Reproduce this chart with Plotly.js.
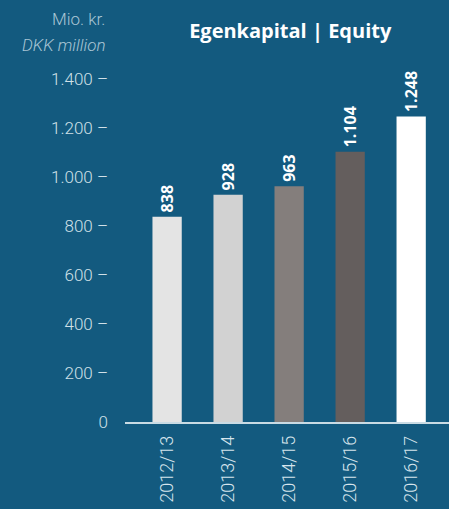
<!DOCTYPE html>
<html><head><meta charset="utf-8">
<script src="https://cdn.plot.ly/plotly-3.0.1.min.js"></script>
<style>html,body{margin:0;padding:0;background:#135a7f;}</style>
</head><body>
<div id="chart" style="width:449px;height:509px;"></div>
<script>
const categories = ["2012/13", "2013/14", "2014/15", "2015/16", "2016/17"];
const equity = [838, 928, 963, 1104, 1248];
const valueLabels = ["838", "928", "963", "1.104", "1.248"];
const barColors = ["#e4e4e4", "#d2d2d2", "#847e7c", "#645e5d", "#ffffff"];
const yTickVals = [0, 200, 400, 600, 800, 1000, 1200, 1400];
const yTickText = ["0", "200 \u2013", "400 \u2013", "600 \u2013", "800 \u2013", "1.000 \u2013", "1.200 \u2013", "1.400 \u2013"];

const xs = categories.map((c, i) => i);

const trace = {
  type: "bar",
  x: xs,
  y: equity,
  marker: {color: barColors, line: {width: 0}},
  width: 0.48,
  hoverinfo: "none"
};

const labelFont = {family: "Open Sans, sans-serif", size: 16, color: "#ffffff", weight: 700};
const valueAnnotations = xs.map((x, i) => ({
  x: x, y: equity[i], xref: "x", yref: "y",
  text: valueLabels[i], textangle: -90,
  showarrow: false, xanchor: "center", yanchor: "bottom", yshift: 2,
  font: labelFont
}));

const sideFont = {family: "Roboto, sans-serif", size: 17, color: "#a9c5d4", weight: 300};

const layout = {
  width: 449, height: 509,
  paper_bgcolor: "#135a7f",
  plot_bgcolor: "#135a7f",
  margin: {l: 125, r: 0, t: 40, b: 87},
  showlegend: false,
  title: {
    text: "<b>Egenkapital | Equity</b>",
    font: {family: "Open Sans, sans-serif", size: 20, color: "#ffffff"},
    xref: "paper", x: 0.51, xanchor: "center",
    yref: "container", y: 0.94, yanchor: "middle"
  },
  xaxis: {
    range: [-0.69, 4.62],
    tickvals: xs,
    ticktext: categories,
    tickangle: -90,
    showgrid: false, zeroline: false,
    showline: true, linecolor: "#c9dbe4", linewidth: 1.5,
    ticks: "",
    ticklabelstandoff: 5,
    tickfont: {family: "Roboto, sans-serif", size: 18, color: "#d6e4ec", weight: 300},
    fixedrange: true
  },
  yaxis: {
    range: [0, 1560],
    tickvals: yTickVals,
    ticktext: yTickText,
    showgrid: false, zeroline: false, showline: false,
    ticks: "",
    ticklabelstandoff: 16,
    tickfont: {family: "Roboto, sans-serif", size: 17, color: "#d0e0e8", weight: 300},
    fixedrange: true
  },
  annotations: valueAnnotations.concat([
    {text: "Mio. kr.", xref: "paper", yref: "paper", x: -0.055, y: 1.0, xanchor: "right", yanchor: "middle",
     showarrow: false, font: sideFont, yshift: 21},
    {text: "<i>DKK million</i>", xref: "paper", yref: "paper", x: -0.055, y: 1.0, xanchor: "right", yanchor: "middle",
     showarrow: false, font: sideFont, yshift: -5}
  ])
};

Plotly.newPlot("chart", [trace], layout, {displayModeBar: false, staticPlot: true});
</script>
</body></html>
